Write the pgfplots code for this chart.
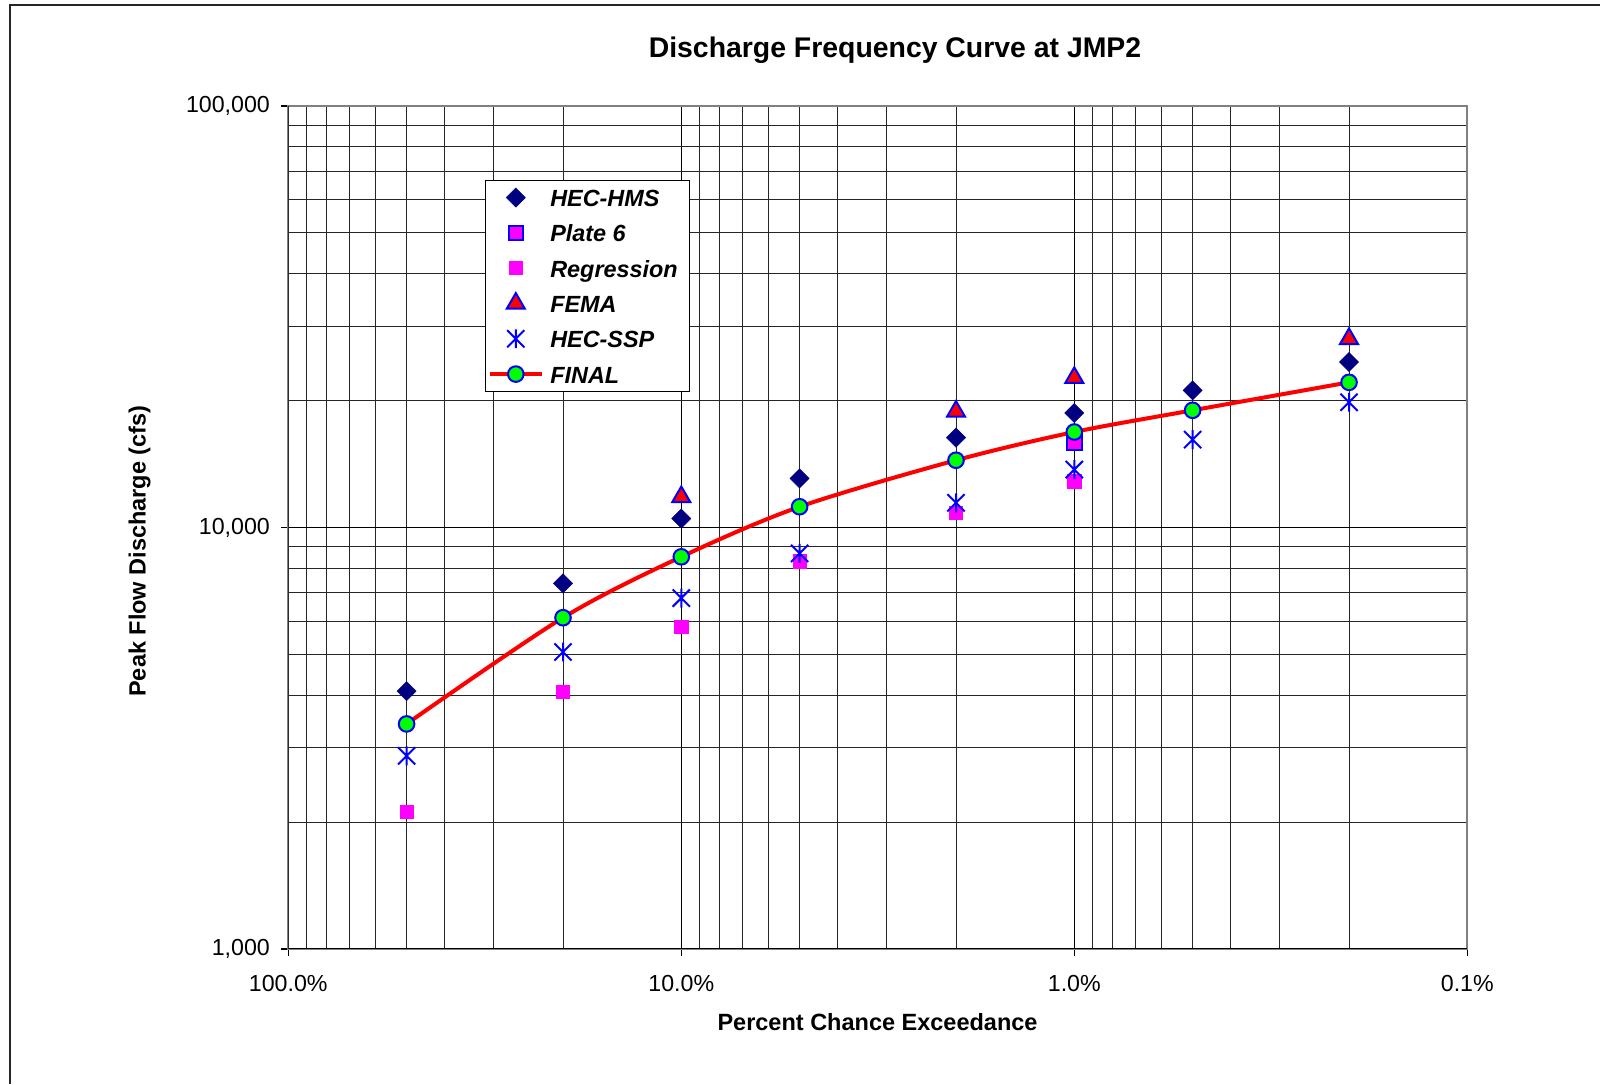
\documentclass[border=0pt]{standalone}
\usepackage{pgfplots}
\pgfplotsset{compat=1.18}
\usepackage{fontspec}
\setmainfont{Liberation Sans}

\definecolor{hmsnavy}{RGB}{0,0,128}
\definecolor{xlgreen}{RGB}{0,255,0}
\definecolor{xlmag}{RGB}{255,0,255}

% Excel "star": an X with a vertical bar through it
\pgfdeclareplotmark{xstar}{%
  \pgfpathmoveto{\pgfqpoint{-\pgfplotmarksize}{-\pgfplotmarksize}}%
  \pgfpathlineto{\pgfqpoint{\pgfplotmarksize}{\pgfplotmarksize}}%
  \pgfpathmoveto{\pgfqpoint{-\pgfplotmarksize}{\pgfplotmarksize}}%
  \pgfpathlineto{\pgfqpoint{\pgfplotmarksize}{-\pgfplotmarksize}}%
  \pgfpathmoveto{\pgfqpoint{0pt}{-1.1\pgfplotmarksize}}%
  \pgfpathlineto{\pgfqpoint{0pt}{1.1\pgfplotmarksize}}%
  \pgfusepathqstroke}

\pgfplotsset{
  legimg/.style={legend image code/.code={%
    \draw[mark repeat=2,mark phase=2,##1] plot coordinates {(0pt,0pt) (12.75pt,0pt) (25.5pt,0pt)};}},
}

\begin{document}
\begin{tikzpicture}
\path[use as bounding box] (-144.15pt,-67.5pt) rectangle (655.85pt,474.5pt);
\draw[black!85, line width=1pt] (-139.15pt,-67.5pt) -- (-139.15pt,472pt) -- (655.85pt,472pt);
\begin{axis}[
    scale only axis,
    width=589.5pt, height=421.5pt,
    xmode=log, ymode=log, x dir=reverse,
    xmin=0.1, xmax=100, ymin=1000, ymax=100000,
    xtick={100,10,1,0.1},
    xticklabels={100.0\%,10.0\%,1.0\%,0.1\%},
    minor xtick={0.2,0.3,0.4,0.5,0.6,0.7,0.8,0.9,2,3,4,5,6,7,8,9,20,30,40,50,60,70,80,90},
    ytick={1000,10000,100000},
    yticklabels={{1,000},{10,000},{100,000}},
    minor ytick={2000,3000,4000,5000,6000,7000,8000,9000,20000,30000,40000,50000,60000,70000,80000,90000},
    grid=both,
    major grid style={black, line width=0.5pt},
    minor grid style={black!85, line width=0.5pt},
    tick pos=left, tick align=outside,
    major tick length=3.5pt, minor tick length=0pt,
    tick style={black, line width=0.6pt},
    axis line style={gray, line width=1pt},
    ticklabel style={font=\fontsize{11.6}{13}\selectfont, inner sep=0pt},
    xticklabel style={anchor=center, yshift=-13.85pt},
    yticklabel style={anchor=east, xshift=-5.5pt},
    title={Discharge Frequency Curve at JMP2},
    title style={at={(axis description cs:0.5146,1.0519)}, anchor=center,
      font=\fontsize{14.2}{16}\selectfont\bfseries},
    xlabel={Percent Chance Exceedance},
    xlabel style={at={(axis description cs:0.4998,-0.0872)}, anchor=center,
      font=\fontsize{11.75}{14}\selectfont\bfseries},
    ylabel={Peak Flow Discharge (cfs)},
    ylabel style={at={(axis description cs:-0.1260,0.472)}, anchor=center,
      font=\fontsize{11.75}{14}\selectfont\bfseries},
    legend style={at={(0.1666,0.9127)}, anchor=north west,
      draw=black, line width=0.6pt, fill=white,
      inner xsep=1.5pt, inner ysep=3.2pt,
      font=\fontsize{11.7}{13}\selectfont\bfseries\itshape,
      nodes={inner sep=0pt, text height=10pt, text depth=1pt},
      row sep=6.65pt, column sep=3.5pt},
    legend cell align=left,
]
\addplot[legimg, only marks, mark=square*, mark size=3.4pt,
  mark options={rotate=45, fill=hmsnavy, draw=hmsnavy, line width=0.2pt}]
  coordinates {(50,4090) (20,7370) (10,10500) (5,13070) (2,16340) (1,18690) (0.5,21160) (0.2,24700)};
\addlegendentry{HEC-HMS}
\addplot[legimg, only marks, mark=square*, mark size=3.6pt,
  mark options={fill=xlmag, draw=blue, line width=1pt}]
  coordinates {(1,15920)};
\addlegendentry{Plate 6}
\addplot[legimg, only marks, mark=square*, mark size=3.3pt,
  mark options={fill=xlmag, draw=xlmag, line width=0.3pt}]
  coordinates {(50,2116) (20,4079) (10,5816) (5,8318) (2,10835) (1,12870)};
\addlegendentry{Regression\hspace*{4.5pt}}
\addplot[legimg, only marks, mark=triangle*, mark size=5.2pt,
  mark options={fill=red, draw=blue, line width=1pt}]
  coordinates {(10,11820) (2,18850) (1,22660) (0.2,28030)};
\addlegendentry{FEMA}
\addplot[legimg, only marks, mark=xstar, mark size=4.3pt,
  mark options={draw=blue, line width=1pt}]
  coordinates {(50,2872) (20,5066) (10,6800) (5,8680) (2,11443) (1,13720) (0.5,16160) (0.2,19820)};
\addlegendentry{HEC-SSP}
\addplot[legimg, red, line width=2pt, smooth, mark=*, mark size=3.9pt,
  mark options={fill=xlgreen, draw=blue, line width=1pt, solid}]
  coordinates {(50,3420) (20,6110) (10,8520) (5,11200) (2,14440) (1,16850) (0.5,18970) (0.2,22100)};
\addlegendentry{FINAL}
\draw[black, line width=0.6pt] (rel axis cs:0,1) -- (rel axis cs:0,0) -- (rel axis cs:1,0);
\end{axis}
\end{tikzpicture}
\end{document}
